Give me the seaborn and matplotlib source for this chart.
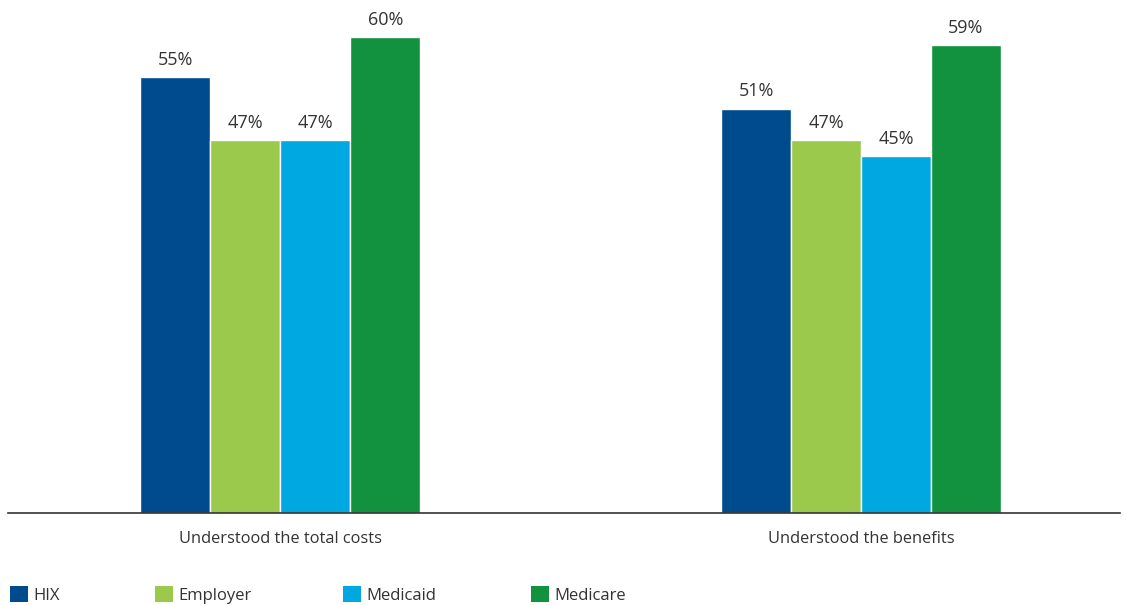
import matplotlib
matplotlib.use("Agg")
import matplotlib.pyplot as plt
import seaborn as sns
import pandas as pd
from matplotlib.patches import Patch

categories = ["Understood the total costs", "Understood the benefits"]
plans = ["HIX", "Employer", "Medicaid", "Medicare"]
hix = [55, 51]
employer = [47, 47]
medicaid = [47, 45]
medicare = [60, 59]
colors = ["#004B8D", "#9BC94B", "#00A8E1", "#12923E"]

rows = []
for plan, vals in zip(plans, [hix, employer, medicaid, medicare]):
    for cat, v in zip(categories, vals):
        rows.append({"Category": cat, "Plan": plan, "Value": v})
df = pd.DataFrame(rows)

sns.set_theme(style="white")
plt.rcParams["font.family"] = ["Open Sans", "DejaVu Sans"]

fig = plt.figure(figsize=(11.26, 6.05), dpi=100)
ax = fig.add_axes([8 / 1126, (605 - 513) / 605, 1112 / 1126, 513 / 605])

sns.barplot(data=df, x="Category", y="Value", hue="Plan", hue_order=plans,
            order=categories, palette=colors, width=0.482, gap=0,
            edgecolor="white", linewidth=1, saturation=1, ax=ax, legend=False,
            errorbar=None)

for cont in ax.containers:
    ax.bar_label(cont, fmt="%d%%", padding=6, fontsize=13, color="#333333")

ax.set_xlim(-0.469, 1.446)
ax.set_ylim(0, 64.7)
ax.set_yticks([])
ax.set_xlabel("")
ax.set_ylabel("")
for s in ["top", "right", "left"]:
    ax.spines[s].set_visible(False)
ax.spines["bottom"].set_color("#333333")
ax.spines["bottom"].set_linewidth(1.2)
ax.tick_params(axis="x", length=0, pad=13, labelsize=11.8, labelcolor="#333333")

xs = [10, 155, 343, 531]
for plan, c, x in zip(plans, colors, xs):
    h = [Patch(facecolor=c, edgecolor="none")]
    fig.legend(h, [plan], loc="center left", bbox_to_anchor=(x / 1126, 1 - 595 / 605),
               frameon=False, handlelength=1.05, handleheight=1.05, handletextpad=0.35,
               fontsize=12, labelcolor="#333333", borderpad=0, borderaxespad=0)

fig.savefig("out.png", dpi=100)
